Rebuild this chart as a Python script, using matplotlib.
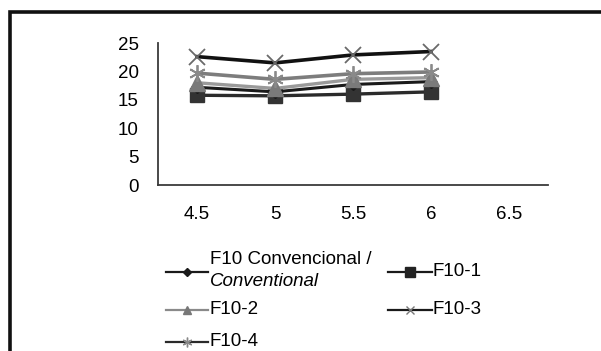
import matplotlib
matplotlib.use('Agg')
import matplotlib.pyplot as plt
from matplotlib.lines import Line2D
from matplotlib.patches import Rectangle

plt.rcParams['font.family'] = ['Liberation Sans', 'DejaVu Sans']

# x categories (last one has no data)
categorias = ['4.5', '5', '5.5', '6', '6.5']
conv = [17.2, 16.4, 17.7, 18.2]
f10_1 = [15.8, 15.7, 16.0, 16.4]
f10_2 = [18.0, 17.0, 18.6, 18.9]
f10_3 = [22.6, 21.5, 22.9, 23.5]
f10_4 = [19.7, 18.6, 19.6, 19.9]
y_ticks = [0, 5, 10, 15, 20, 25]

W, H = 601, 351
fig = plt.figure(figsize=(W / 100, H / 100), dpi=100)

def fx(px):
    return px / W

def fy(py):
    return 1 - py / H

ax = fig.add_axes([fx(158), fy(185), fx(548) - fx(158), fy(43) - fy(185)])

xs = list(range(len(conv)))
# estilos de cada serie
estilos = [
    (f10_1, dict(color='#2b2b2b', lw=2.4, marker='s', ms=10, mfc='#333333', mec='#333333')),
    (conv, dict(color='#1a1a1a', lw=2.2, marker='D', ms=6, mfc='#1a1a1a', mec='#1a1a1a')),
    (f10_2, dict(color='#9a9a9a', lw=2.4, marker='^', ms=12, mfc='#7a7a7a', mec='#7a7a7a')),
    (f10_4, dict(color='#7d7d7d', lw=2.6, marker=(6, 2, 0), ms=12, mfc='#8a8a8a', mec='#8a8a8a', mew=1.3)),
    (f10_3, dict(color='#111111', lw=2.6, marker='x', ms=12, mec='#6a6a6a', mew=1.3)),
]
for vals, kw in estilos:
    ax.plot(xs, vals, **kw)

ax.set_xlim(-0.5, len(categorias) - 0.5)
ax.set_ylim(0, 25)
ax.set_xticks(range(len(categorias)))
ax.set_xticklabels(categorias)
ax.set_yticks(y_ticks)
ax.tick_params(axis='both', length=0, labelsize=13.5)
ax.tick_params(axis='y', pad=14)
ax.tick_params(axis='x', pad=15)
for s in ['top', 'right']:
    ax.spines[s].set_visible(False)
for s in ['left', 'bottom']:
    ax.spines[s].set_color('#3a3a3a')
    ax.spines[s].set_linewidth(1.3)

# leyenda dibujada a mano
FS = 13.5

def entrada(x0, x1, y, kw, label=None):
    xm = (x0 + x1) / 2
    ln = Line2D([fx(x0), fx(xm), fx(x1)], [fy(y)] * 3, transform=fig.transFigure,
                markevery=[1], **kw)
    fig.add_artist(ln)
    if label:
        fig.text(fx(x1 + 1), fy(y), label, fontsize=FS, va='center', ha='left')

entrada(166, 208, 272, dict(color='#1a1a1a', lw=1.6, marker='D', ms=4))
fig.text(fx(210), fy(259), 'F10 Convencional /', fontsize=FS, va='center', ha='left')
fig.text(fx(210), fy(281), 'Conventional', fontsize=FS, va='center', ha='left', style='italic')
entrada(388, 432, 272, dict(color='#1a1a1a', lw=1.6, marker='s', ms=7, mfc='#222222', mec='#222222'), 'F10-1')
entrada(166, 208, 310, dict(color='#8a8a8a', lw=1.6, marker='^', ms=6, mfc='#777777', mec='#777777'), 'F10-2')
entrada(388, 432, 310, dict(color='#1a1a1a', lw=1.6, marker='x', ms=6, mec='#777777', mew=1), 'F10-3')
entrada(166, 208, 342, dict(color='#2a2a2a', lw=1.6, marker=(6, 2, 0), ms=7, mec='#888888', mew=1), 'F10-4')

# borde exterior
fig.add_artist(Rectangle((fx(9.5), -0.1), 1.2, fy(11.5) + 0.1, transform=fig.transFigure,
                         fill=False, lw=2.6, ec='#111111', clip_on=False))

fig.savefig('out.png', dpi=100)
